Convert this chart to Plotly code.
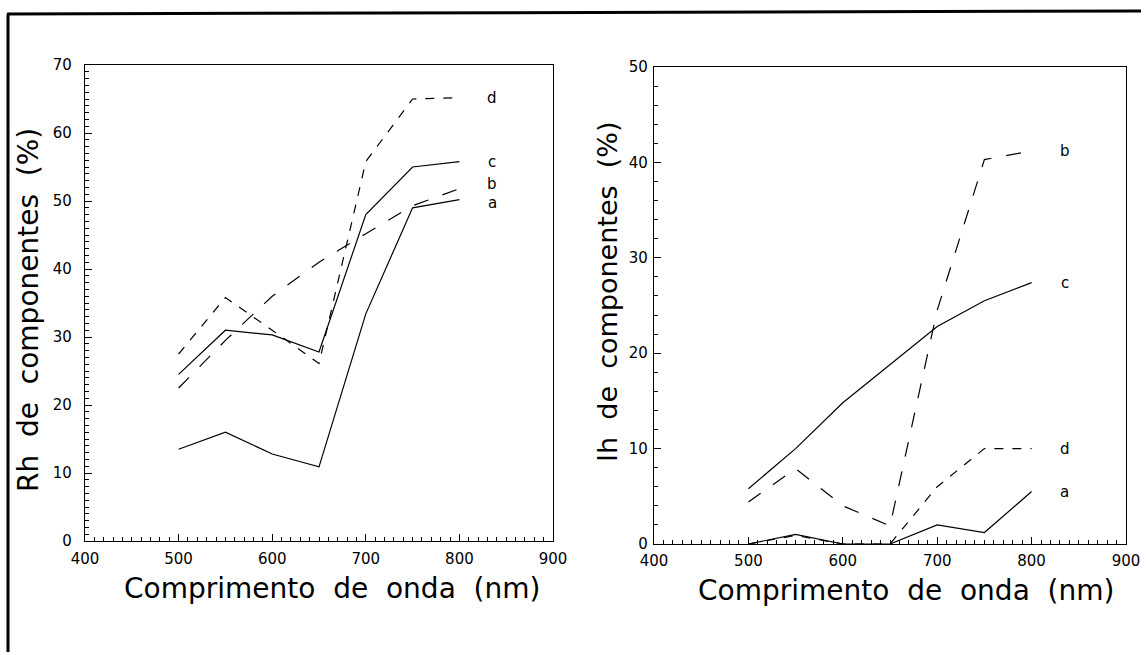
import plotly.graph_objects as go

# wavelengths (nm)
wavelength = [500, 550, 600, 650, 700, 750, 800]

# Left panel: Rh de componentes (%)
rh_a = [13.5, 16.0, 12.8, 10.9, 33.4, 49.0, 50.2]
rh_b = [22.5, 29.5, 36.0, 41.0, 45.2, 49.3, 51.8]
rh_c = [24.5, 31.0, 30.3, 27.8, 48.0, 55.0, 55.8]
rh_d = [27.5, 35.8, 31.0, 26.1, 55.8, 65.0, 65.2]

# Right panel: Ih de componentes (%)
ih_a = [0.0, 1.0, 0.0, 0.0, 2.0, 1.2, 5.5]
ih_b = [4.4, 7.9, 4.0, 1.9, 24.5, 40.3, 41.2]
ih_c = [5.8, 10.0, 14.8, 18.8, 22.8, 25.5, 27.4]
ih_d = [0.0, 0.9, 0.0, 0.0, 6.0, 10.0, 10.0]

series_names = ["a", "b", "c", "d"]
left_series = [rh_a, rh_b, rh_c, rh_d]
right_series = [ih_a, ih_b, ih_c, ih_d]

x_ticks = [400, 500, 600, 700, 800, 900]
left_y_ticks = [0, 10, 20, 30, 40, 50, 60, 70]
right_y_ticks = [0, 10, 20, 30, 40, 50]

x_title = "Comprimento  de  onda  (nm)"
left_y_title = "Rh  de  componentes  (%)"
right_y_title = "Ih  de  componentes  (%)"

dash_styles = {"a": "solid", "b": "longdash", "c": "solid", "d": "dash"}
# label vertical nudges in pixels (to separate close labels)
left_label_shift = {"a": -3, "b": 5, "c": 0, "d": 0}
right_label_shift = {"a": 0, "b": 0, "c": 0, "d": 0}

FONT = "DejaVu Sans"
W, H = 1141, 652

fig = go.Figure()

for name, vals in zip(series_names, left_series):
    fig.add_trace(go.Scatter(x=wavelength, y=vals, mode="lines", name=name,
                             line=dict(color="black", width=1.2, dash=dash_styles[name]),
                             xaxis="x", yaxis="y", showlegend=False))
for name, vals in zip(series_names, right_series):
    fig.add_trace(go.Scatter(x=wavelength, y=vals, mode="lines", name=name,
                             line=dict(color="black", width=1.2, dash=dash_styles[name]),
                             xaxis="x2", yaxis="y2", showlegend=False))

annotations = []
for name, vals in zip(series_names, left_series):
    annotations.append(dict(x=835, y=vals[-1], xref="x", yref="y", text=name,
                            showarrow=False, xanchor="center", yanchor="middle",
                            yshift=left_label_shift[name],
                            font=dict(family=FONT, size=15, color="black")))
for name, vals in zip(series_names, right_series):
    annotations.append(dict(x=835, y=vals[-1], xref="x2", yref="y2", text=name,
                            showarrow=False, xanchor="center", yanchor="middle",
                            yshift=right_label_shift[name],
                            font=dict(family=FONT, size=15, color="black")))

# axis titles (placed as paper annotations)
title_font = dict(family=FONT, size=28, color="black")
annotations += [
    dict(x=332 / W, y=(H - 588) / H, xref="paper", yref="paper", text=x_title,
         showarrow=False, xanchor="center", yanchor="middle", font=title_font),
    dict(x=906 / W, y=(H - 590) / H, xref="paper", yref="paper", text=x_title,
         showarrow=False, xanchor="center", yanchor="middle", font=title_font),
    dict(x=28 / W, y=(H - 310) / H, xref="paper", yref="paper", text=left_y_title,
         textangle=-90, showarrow=False, xanchor="center", yanchor="middle", font=title_font),
    dict(x=607 / W, y=(H - 292) / H, xref="paper", yref="paper", text=right_y_title,
         textangle=-90, showarrow=False, xanchor="center", yanchor="middle",
         font=dict(family=FONT, size=27, color="black")),
]

axis_common = dict(showgrid=False, zeroline=False, showline=True, linecolor="black",
                   linewidth=1.2, mirror=True, ticks="inside", ticklen=7, tickwidth=1,
                   tickcolor="black", automargin=False,
                   tickfont=dict(family=FONT, size=15, color="black"))

fig.update_layout(
    width=W, height=H,
    margin=dict(l=0, r=0, t=0, b=0),
    paper_bgcolor="white", plot_bgcolor="white",
    showlegend=False,
    xaxis=dict(domain=[85 / W, 553 / W], range=[400, 900], tickvals=x_ticks, anchor="y",
               ticklabelstandoff=4,
               minor=dict(dtick=10, ticks="inside", ticklen=4, tickcolor="black"),
               **axis_common),
    yaxis=dict(domain=[(H - 541) / H, (H - 65) / H], range=[0, 70], tickvals=left_y_ticks,
               anchor="x", ticklabelstandoff=9,
               minor=dict(dtick=1, ticks="inside", ticklen=4, tickcolor="black"),
               **axis_common),
    xaxis2=dict(domain=[654 / W, 1126 / W], range=[400, 900], tickvals=x_ticks, anchor="y2",
                ticklabelstandoff=3,
                minor=dict(dtick=10, ticks="inside", ticklen=4, tickcolor="black"),
                **axis_common),
    yaxis2=dict(domain=[(H - 544) / H, (H - 67) / H], range=[0, 50], tickvals=right_y_ticks,
                anchor="x2", ticklabelstandoff=2,
                minor=dict(dtick=2, ticks="inside", ticklen=4, tickcolor="black"),
                **axis_common),
    annotations=annotations,
    shapes=[
        dict(type="line", xref="paper", yref="paper", x0=7 / W, x1=1.0,
             y0=(H - 14) / H, y1=(H - 11) / H, line=dict(color="black", width=3)),
        dict(type="line", xref="paper", yref="paper", x0=8 / W, x1=8 / W,
             y0=0, y1=(H - 14) / H, line=dict(color="black", width=3)),
    ],
)

fig.write_html("out.html")
